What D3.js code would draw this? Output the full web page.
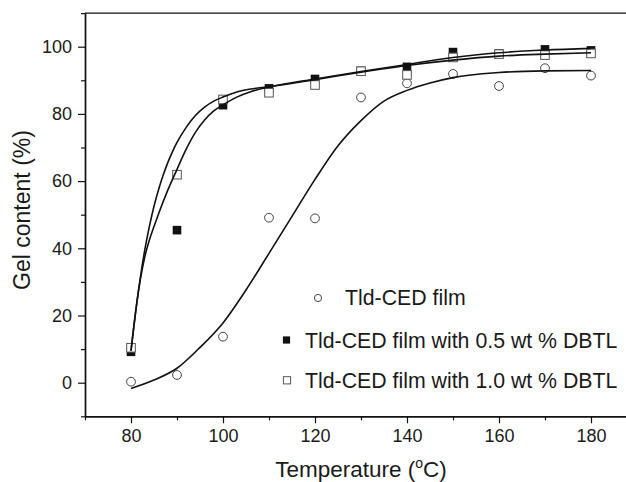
<!DOCTYPE html>
<html>
<head>
<meta charset="utf-8">
<script src="https://cdn.jsdelivr.net/npm/d3@7"></script>
<style>
  html, body { margin: 0; padding: 0; background: #fff; }
  svg { display: block; }
  text { font-family: "Liberation Sans", Arial, Helvetica, sans-serif; fill: #1a1a1a; }
</style>
</head>
<body>
<svg id="chart" width="626" height="482"></svg>
<script>
// Measured gel content (%) at each cure temperature (°C)
const temps = [80, 90, 100, 110, 120, 130, 140, 150, 160, 170, 180];
const gelNeat = [0.3, 2.3, 13.7, 49.1, 48.9, 84.9, 89.1, 91.9, 88.3, 93.6, 91.4];
const gel05 = [9.2, 45.4, 82.6, 87.6, 90.4, 92.8, 94.0, 98.4, 98.0, 99.2, 98.9];
const gel10 = [10.4, 61.9, 84.3, 86.3, 88.6, 92.7, 91.6, 96.8, 97.8, 97.5, 98.0];

// Fitted trend curves
const fitNeatT = [80, 85, 90, 95, 100, 105, 110, 115, 120, 125, 130, 135, 140, 145, 150, 160, 170, 180];
const fitNeat = [-1.7, 0.8, 4.3, 10.5, 17.8, 27.6, 38.5, 49.5, 60.5, 70.5, 78, 83.8, 87, 89.2, 90.8, 92.3, 92.8, 92.9];
const fit05T = [80, 81, 82, 83, 84, 85, 86, 88, 90, 92, 94, 96, 98, 100, 103, 106, 110, 120, 130, 140, 150, 160, 170, 180];
const fit05 = [9.5, 21, 30.5, 37.5, 42.5, 46.5, 50.3, 57.3, 63.5, 69.5, 74.5, 78.2, 80.9, 82.7, 85, 86.6, 88, 90.4, 92.6, 94.7, 96.8, 98.2, 99, 99.5];
const fit10T = [80, 81, 82, 83, 84, 85, 86, 87, 88, 89, 90, 92, 94, 96, 98, 100, 103, 106, 110, 120, 130, 140, 150, 160, 170, 180];
const fit10 = [9.5, 21, 31, 39.5, 46.5, 52.5, 57.5, 61.8, 65.5, 68.7, 71.5, 76, 79.5, 82, 83.8, 85, 86.5, 87.4, 88.1, 90.2, 92.4, 94.4, 96, 97.2, 97.8, 98.2];

// Axis ticks and labels
const xMajor = [80, 100, 120, 140, 160, 180];
const xMinor = [70, 90, 110, 130, 150, 170, 190];
const yMajor = [0, 20, 40, 60, 80, 100];
const yMinor = [-10, 10, 30, 50, 70, 90, 110];
const legendLabels = ["Tld-CED film", "Tld-CED film with 0.5 wt % DBTL", "Tld-CED film with 1.0 wt % DBTL"];

const svg = d3.select("#chart");
const plotLeft = 85, plotRight = 637, plotTop = 13.1, plotBottom = 416.3;

const x = d3.scaleLinear().domain([70, 190]).range([plotLeft, plotRight]);
const y = d3.scaleLinear().domain([-10, 110]).range([plotBottom, plotTop]);

const ink = "#111";

// Top frame line
svg.append("line")
  .attr("x1", plotLeft).attr("x2", plotRight)
  .attr("y1", plotTop).attr("y2", plotTop)
  .attr("stroke", ink).attr("stroke-width", 1.4);

// Bottom axis
const gx = svg.append("g").attr("transform", `translate(0,${plotBottom})`);
gx.call(d3.axisBottom(x).tickValues(xMajor).tickSize(7).tickSizeOuter(0).tickPadding(6).tickFormat(d3.format("d")));
gx.append("g").call(d3.axisBottom(x).tickValues(xMinor).tickSize(4).tickSizeOuter(0).tickFormat(""));

// Left axis
const gy = svg.append("g").attr("transform", `translate(${plotLeft},0)`);
gy.call(d3.axisLeft(y).tickValues(yMajor).tickSize(7).tickSizeOuter(0).tickPadding(6).tickFormat(d3.format("d")));
gy.append("g").call(d3.axisLeft(y).tickValues(yMinor).tickSize(4).tickSizeOuter(0).tickFormat(""));

svg.selectAll(".domain").attr("stroke", ink).attr("stroke-width", 1.4);
svg.selectAll(".tick line").attr("stroke", ink).attr("stroke-width", 1.2);
svg.selectAll(".tick text")
  .attr("font-size", 18)
  .attr("font-family", "'Liberation Sans', Arial, sans-serif")
  .attr("fill", "#1a1a1a");

// Axis titles
const xt = svg.append("text")
  .attr("x", 361).attr("y", 477)
  .attr("text-anchor", "middle")
  .attr("font-size", 22.5);
xt.append("tspan").text("Temperature (");
xt.append("tspan").attr("font-size", 14).attr("dy", -9).text("o");
xt.append("tspan").attr("dy", 9).text("C)");

svg.append("text")
  .attr("transform", "translate(30,210) rotate(-90)")
  .attr("text-anchor", "middle")
  .attr("font-size", 23)
  .text("Gel content (%)");

// Marker layers
const pts = (vals) => temps.map((t, i) => ({ t, v: vals[i] }));

svg.append("g").selectAll("circle")
  .data(pts(gelNeat)).join("circle")
  .attr("cx", d => x(d.t)).attr("cy", d => y(d.v)).attr("r", 4.4)
  .attr("fill", "#fff").attr("stroke", "#444").attr("stroke-width", 1);

const sq = 8.6;
svg.append("g").selectAll("rect")
  .data(pts(gel05)).join("rect")
  .attr("x", d => x(d.t) - sq / 2).attr("y", d => y(d.v) - sq / 2)
  .attr("width", sq).attr("height", sq)
  .attr("fill", "#111");

svg.append("g").selectAll("rect")
  .data(pts(gel10)).join("rect")
  .attr("x", d => x(d.t) - sq / 2).attr("y", d => y(d.v) - sq / 2)
  .attr("width", sq).attr("height", sq)
  .attr("fill", "#fff").attr("stroke", "#555").attr("stroke-width", 1);

// Fitted curves
const line = d3.line().x(d => x(d[0])).y(d => y(d[1])).curve(d3.curveMonotoneX);
[[fitNeatT, fitNeat], [fit05T, fit05], [fit10T, fit10]].forEach(([ts, vs]) => {
  svg.append("path")
    .datum(ts.map((t, i) => [t, vs[i]]))
    .attr("d", line)
    .attr("fill", "none")
    .attr("stroke", ink)
    .attr("stroke-width", 1.6);
});

// Legend
const lg = svg.append("g");
lg.append("circle").attr("cx", 318).attr("cy", 298).attr("r", 3.6)
  .attr("fill", "#fff").attr("stroke", "#444").attr("stroke-width", 1);
lg.append("rect").attr("x", 286.5 - 3.6).attr("y", 340 - 3.6).attr("width", 7.2).attr("height", 7.2)
  .attr("fill", "#111");
lg.append("rect").attr("x", 287 - 3.6).attr("y", 380.3 - 3.6).attr("width", 7.2).attr("height", 7.2)
  .attr("fill", "#fff").attr("stroke", "#555").attr("stroke-width", 1);

const legendPos = [[345, 305], [305, 348], [305, 388]];
lg.selectAll("text.lab").data(legendLabels).join("text")
  .attr("class", "lab")
  .attr("x", (d, i) => legendPos[i][0])
  .attr("y", (d, i) => legendPos[i][1])
  .attr("font-size", 21.3)
  .text(d => d);
</script>
</body>
</html>
